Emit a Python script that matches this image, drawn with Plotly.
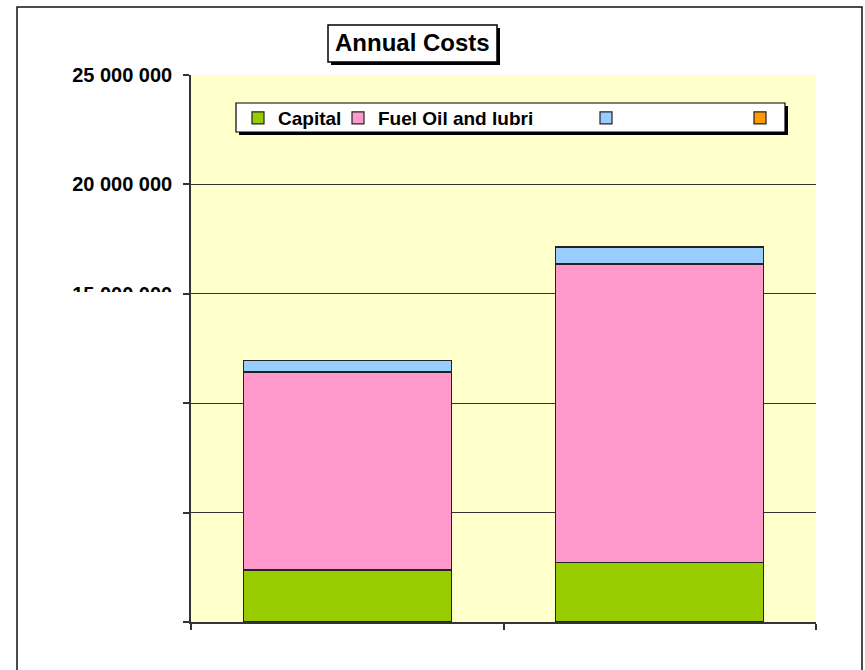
import plotly.graph_objects as go

# Annual cost breakdown per alternative (stacked)
alternatives = ["Alternative 1", "Alternative 2"]
capital = [2_380_000, 2_710_000]
fuel_oil_lubri = [9_050_000, 13_650_000]
other_blue = [540_000, 780_000]
other_orange = [0, 0]

y_tick_values = [0, 5_000_000, 10_000_000, 15_000_000, 20_000_000, 25_000_000]
y_tick_labels = ["", "", "", "15 000 000", "20 000 000", "25 000 000"]

W, H = 865, 670
L, R, T, B = 191, 49, 75, 48
PW, PH = W - L - R, H - T - B


def px(x):
    return (x - L) / PW


def py(y):
    return (H - B - y) / PH


FONT = "Liberation Sans, Arial, sans-serif"
bar_line = dict(color="#222222", width=1.2)

# each series gets its own legend slot so the entries can be spaced freely
series = [
    ("Capital", capital, "#99CC00", "legend", 238),
    ("Fuel Oil and lubri", fuel_oil_lubri, "#FF99CC", "legend2", 338),
    ("", other_blue, "#99CCFF", "legend3", 586),
    ("", other_orange, "#FF9900", "legend4", 740),
]

fig = go.Figure()
legend_layouts = {}
for name, vals, col, leg, left in series:
    fig.add_trace(go.Bar(x=alternatives, y=vals, name=name, legend=leg,
                         marker=dict(color=col, line=bar_line)))
    legend_layouts[leg] = dict(
        orientation="h", x=px(left), y=py(118), xanchor="left",
        yanchor="middle", bgcolor="rgba(0,0,0,0)", borderwidth=0,
        font=dict(size=19, family=FONT, weight="bold", color="#000000"),
        itemwidth=30,
    )

shapes = [
    # outer chart frame
    dict(type="rect", xref="paper", yref="paper", x0=px(17), x1=px(862),
         y0=py(690), y1=py(7), line=dict(color="#111111", width=1.5),
         fillcolor="rgba(0,0,0,0)", layer="below"),
    # title box shadow + box
    dict(type="rect", xref="paper", yref="paper", x0=px(331), x1=px(500),
         y0=py(65), y1=py(28), line=dict(width=0), fillcolor="#000000",
         layer="above"),
    dict(type="rect", xref="paper", yref="paper", x0=px(328), x1=px(497),
         y0=py(62), y1=py(25), line=dict(color="#000000", width=1.5),
         fillcolor="#FFFFFF", layer="above"),
    # legend box shadow + box
    dict(type="rect", xref="paper", yref="paper", x0=px(239), x1=px(788),
         y0=py(135), y1=py(106), line=dict(width=0), fillcolor="#000000",
         layer="above"),
    dict(type="rect", xref="paper", yref="paper", x0=px(236), x1=px(785),
         y0=py(132), y1=py(103), line=dict(color="#000000", width=1.2),
         fillcolor="#FFFFFF", layer="above"),
    # mask over lower half of the 15 000 000 label
    dict(type="rect", xref="paper", yref="paper", x0=px(22), x1=px(183),
         y0=py(620), y1=py(292), line=dict(width=0), fillcolor="#FFFFFF",
         layer="above"),
]

fig.update_layout(
    width=W, height=H,
    margin=dict(l=L, r=R, t=T, b=B, pad=0),
    paper_bgcolor="#FFFFFF",
    plot_bgcolor="#FFFFCC",
    barmode="stack",
    bargap=0.334,
    font=dict(family=FONT, color="#000000"),
    showlegend=True,
    shapes=shapes,
    annotations=[
        dict(text="<b>Annual Costs</b>", xref="paper", yref="paper",
             x=px(412), y=py(43), xanchor="center", yanchor="middle",
             showarrow=False, font=dict(size=24, color="#000000")),
    ],
    **legend_layouts,
)

fig.update_xaxes(
    showticklabels=False, showgrid=False, ticks="outside",
    tickson="boundaries", ticklen=6, tickcolor="#333333", tickwidth=1.5,
    showline=True, linecolor="#333333", linewidth=1.5, zeroline=False,
)
fig.update_yaxes(
    range=[0, 25_000_000], tickmode="array", tickvals=y_tick_values,
    ticktext=y_tick_labels, ticks="outside", ticklen=6, tickcolor="#333333",
    tickwidth=1.5, showgrid=True, gridcolor="#333333", gridwidth=1.3,
    showline=True, linecolor="#333333", linewidth=1.5, zeroline=False,
    tickfont=dict(size=20, family=FONT, weight="bold"),
    ticklabelstandoff=7,
)

fig.write_html("out.html")
